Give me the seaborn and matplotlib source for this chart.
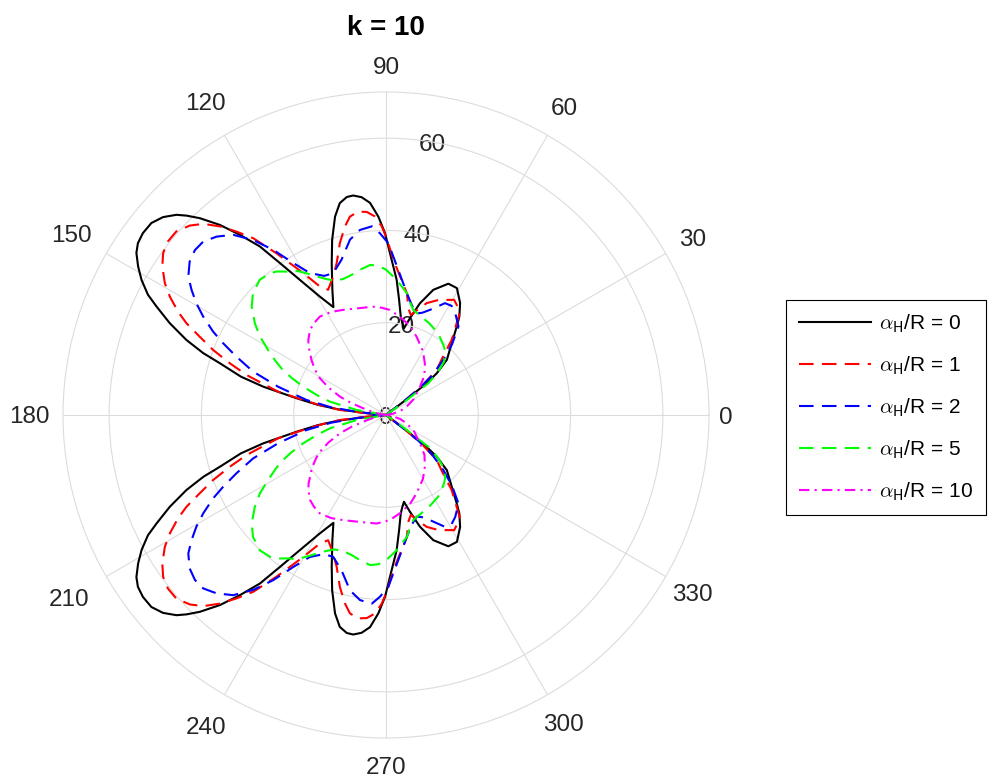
import numpy as np
import pandas as pd
import matplotlib
matplotlib.use("Agg")
import matplotlib.pyplot as plt
import seaborn as sns
from matplotlib.lines import Line2D

# ---------------- data (upper half, degrees 0..180; lower half is its mirror) -------------
th_a0 = [0, 36.5, 37.3, 38, 39.4, 42.2, 47.5, 51.3, 53.3, 56.5, 60.8, 64.6, 69.3, 73.1, 76.1,
         78.3, 80, 81.5, 83.5, 85.5, 88.6, 90.3, 92.2, 94.3, 96.4, 98.5, 100.2, 102.3, 104.4,
         107.1, 109.7, 113.2, 116, 119.2, 122.5, 124.9, 126.8, 129.05, 131.15, 133.4, 135,
         136.3, 138.4, 140.7, 143.2, 145.3, 147, 149.1, 151.1, 153.2, 154.7, 157, 159.4,
         161.3, 162.7, 165.2, 167, 169.4, 171.5, 173.2, 174.3, 175.5, 180]
r_a0 = [0, 0, 6, 11, 14.2, 17.8, 21.1, 24.5, 26.6, 29.1, 31.5, 31.5, 29.0, 25.3, 21.6,
        19.2, 20.3, 21.6, 25.1, 29.4, 35.1, 39.4, 43.0, 46.1, 47.5, 48.1, 48.0, 47.0, 44.4,
        39.7, 34.9, 29.5, 26.0, 29.4, 34.7, 40.1, 45.6, 50.3, 54.7, 58.7, 61.1,
        62.8, 64.6, 65.7, 65.8, 65.4, 64.5, 62.6, 60.5, 57.8, 55.0, 50.9, 46.2,
        41.8, 37.7, 32.5, 27.3, 19.7, 15.0, 10.5, 5.0, 0, 0]

th_a1 = [0, 36.5, 37.5, 39, 41.6, 45.5, 48.8, 54.4, 59.4, 65.5, 70, 73, 76, 78, 80.3, 84.2,
         87.3, 89.6, 91.3, 93.2, 95.4, 97.8, 100.3, 102.3, 105, 108, 110.9, 114.8, 117.2,
         120.5, 124.1, 126.9, 129.2, 131.4, 133.7, 136, 138.8, 141.5, 144, 146.4, 149.2,
         151.3, 153.6, 155.3, 157.2, 159.4, 161.7, 164, 166, 167.8, 170.3, 172, 173.8, 175,
         176, 180]
r_a1 = [0, 0, 5, 10, 14.7, 17.5, 21.6, 27.6, 29.0, 27.4, 25.8, 24.0, 22.3, 23.5, 26.8, 30.2,
        33.7, 38.0, 40.9, 43.1, 44.2, 44.5, 43.7, 41.8, 38.6, 34.6, 32.1, 29.9, 31.3,
        36.0, 42.3, 47.9, 51.3, 54.5, 57.3, 59.1, 60.4, 60.4, 59.7, 58.2, 55.8,
        53.4, 50.3, 47.6, 43.8, 40.0, 35.6, 31.4, 27.0, 23.9, 17.1, 13.5, 10.0, 4.0,
        0, 0]

th_a2 = [0, 36.5, 37.5, 38.5, 40.5, 43.8, 47, 50.7, 55.8, 59, 62.2, 67.3, 70.5, 73.2, 76.5,
         80.3, 85.2, 89.2, 91.9, 94.3, 98, 101.6, 106, 110.4, 114, 118.2, 121.4, 124.3,
         127.2, 130.3, 133.5, 136.5, 139.2, 142, 145, 147.25, 149.5, 151.7, 154.25, 156.2,
         158.7, 161.9, 165.3, 169.3, 172, 174, 176, 180]
r_a2 = [0, 0, 5, 9, 13, 17.2, 21.0, 24.8, 26.7, 27.6, 27.4, 24.7, 23.5, 23.0, 24.3,
        26.8, 31.6, 37.2, 39.4, 41.0, 40.5, 38.8, 35.0, 32.8, 33.0, 34.9, 38.6, 43.3,
        47.6, 51.2, 53.3, 54.6, 54.7, 54.0, 52.3, 50.1, 47.7, 45.0, 41.6, 38.6,
        34.8, 30.3, 24.2, 17.5, 12.0, 6.0, 0, 0]

th_a5 = [0, 34, 35.5, 36.9, 39.5, 42.6, 47, 50, 57.4, 65, 70, 75.4, 78, 80.3, 85.5, 90, 93,
         96, 100, 103.5, 107.5, 111, 114, 116.6, 118.8, 121.5, 124.7, 127.3, 129.3, 133,
         137.5, 141.1, 145, 148.1, 151.1, 154, 156.2, 158.5, 161.1, 164, 166.6, 170.3,
         173.5, 180]
r_a5 = [0, 0, 5, 11.5, 14.5, 17.1, 18.8, 19.5, 21.0, 22.0, 22.6, 23.5, 25.0, 26.8, 29.4, 31.5,
        32.4, 32.7, 32.0, 31.3, 30.9, 31.2, 32.3, 33.6, 34.9, 36.6, 37.8, 39.1, 39.7, 40.1,
        39.1, 37.4, 34.7, 32.2, 29.2, 26.6, 24.6, 22.0, 19.0, 15.5, 12.5, 6.4,
        0, 0]

th_a10 = [0, 10, 16, 21.9, 30, 39.8, 46, 53, 60, 68.6, 75, 81.9, 88, 94.9, 100.2, 106, 112.1,
          118, 123.9, 128, 131.8, 136, 138.5, 140.9, 143.5, 146, 148.5, 150.9, 154.5, 158.3,
          161, 163.6, 167, 170, 180]
r_a10 = [0, 1.5, 3.2, 4.8, 7.0, 9.6, 12.0, 14.0, 16.0, 18.2, 20.0, 21.5, 22.8, 23.6, 23.7, 24.0,
         24.6, 25.3, 25.7, 25.3, 24.7, 23.4, 22.4, 21.2, 20.1, 18.9, 17.7, 16.4, 13.8, 10.7,
         8.0, 5.1, 3.0, 1.5, 0]

series_labels = [r'$\alpha_{\mathsf{H}}$/R = 0', r'$\alpha_{\mathsf{H}}$/R = 1',
                 r'$\alpha_{\mathsf{H}}$/R = 2', r'$\alpha_{\mathsf{H}}$/R = 5',
                 r'$\alpha_{\mathsf{H}}$/R = 10']
series_colors = ['#000000', '#ff0000', '#0000ff', '#00ff00', '#ff00ff']
series_dashes = [None, (7, 4), (7, 4), (7, 4), (5, 2.5, 1, 2.5)]

theta_ticks = [0, 30, 60, 90, 120, 150, 180, 210, 240, 270, 300, 330]
r_ticks = [0, 20, 40, 60]
r_max = 70
title_text = 'k = 10'

# ---------------- build long table ---------------------------------------------------------
series = [(th_a0, r_a0), (th_a1, r_a1), (th_a2, r_a2), (th_a5, r_a5), (th_a10, r_a10)]
frames = []
for i, (th, rr) in enumerate(series):
    th = np.asarray(th, float)
    rr = np.asarray(rr, float)
    th_full = np.concatenate([th, 360.0 - th[::-1]])
    r_full = np.concatenate([rr, rr[::-1]])
    frames.append(pd.DataFrame({'theta': np.deg2rad(th_full), 'r': r_full,
                                'series': series_labels[i], 'order': np.arange(len(th_full))}))
df = pd.concat(frames, ignore_index=True)

# ---------------- figure ------------------------------------------------------------------
plt.rcParams['font.family'] = ['Liberation Sans', 'DejaVu Sans']
plt.rcParams['mathtext.fontset'] = 'cm'

W, H = 990, 779
fig = plt.figure(figsize=(W / 100, H / 100), dpi=100)
cx, cy, R = 386, 415, 323
ax = fig.add_axes([(cx - R) / W, (H - cy - R) / H, 2 * R / W, 2 * R / H], projection='polar')

for i, lab in enumerate(series_labels):
    sub = df[df['series'] == lab]
    kw = dict(color=series_colors[i], lw=1.5)
    if series_dashes[i] is not None:
        kw['dashes'] = series_dashes[i]
    sns.lineplot(x=sub['theta'].values, y=sub['r'].values, ax=ax, sort=False,
                 estimator=None, errorbar=None, legend=False, **kw)

ax.set_xlabel('')
ax.set_ylabel('')
ax.set_ylim(0, r_max)
ax.set_yticks(r_ticks[1:])
ax.set_yticklabels([])
ax.set_xticks(np.deg2rad(theta_ticks))
ax.set_xticklabels([])
ax.tick_params(length=0)
ax.grid(True, color='#dcdcdc', lw=0.8)
ax.spines['polar'].set_color('#dcdcdc')
ax.spines['polar'].set_linewidth(0.8)

# theta labels (MATLAB-like placement)
lab_dist_px = [340, 354, 356, 350, 362, 363, 357, 366, 359, 350, 355, 354]
for a, d in zip(theta_ticks, lab_dist_px):
    ax.text(np.deg2rad(a), d / R * r_max, str(a), ha='center', va='center_baseline',
            fontsize=17.5, color='#262626', clip_on=False)
# r labels
for rv in r_ticks:
    ax.text(np.deg2rad(80.3), rv, str(rv), ha='center', va='center_baseline',
            fontsize=17.5, color='#262626', clip_on=False, zorder=1)

fig.text(cx / W, 1 - 35 / H, title_text, ha='center', va='baseline',
         fontsize=20, fontweight='bold')

handles = []
for i, lab in enumerate(series_labels):
    h = Line2D([], [], color=series_colors[i], lw=1.5)
    if series_dashes[i] is not None:
        h.set_dashes(series_dashes[i])
    handles.append(h)
leg = fig.legend(handles, series_labels, loc='upper left',
                 bbox_to_anchor=(786 / W, 1 - 300 / H), frameon=True, fancybox=False,
                 edgecolor='black', framealpha=1, fontsize=15, handlelength=3.5,
                 handletextpad=0.37, labelspacing=0.93, borderaxespad=0, borderpad=0.6)
leg.get_frame().set_linewidth(0.8)

fig.savefig('out.png', dpi=100)
